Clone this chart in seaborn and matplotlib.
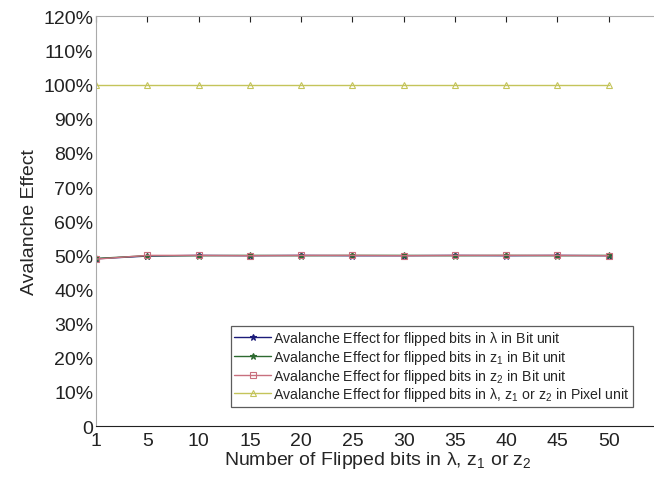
import pandas as pd
import matplotlib.pyplot as plt
import seaborn as sns

# x positions of the flipped-bit counts and their tick labels
x_pos = [0, 5, 10, 15, 20, 25, 30, 35, 40, 45, 50]
x_labels = ['1', '5', '10', '15', '20', '25', '30', '35', '40', '45', '50']

# avalanche effect in percent
lam_bit = [49.0, 49.8, 50.0, 49.9, 50.0, 49.9, 49.9, 50.0, 49.9, 50.0, 49.9]
z1_bit = [49.1, 49.9, 49.9, 50.0, 49.9, 50.0, 50.0, 49.9, 50.0, 49.9, 50.0]
z2_bit = [48.9, 50.0, 50.0, 49.9, 50.0, 50.0, 49.9, 50.0, 50.0, 50.0, 49.9]
pixel = [99.8, 99.8, 99.8, 99.8, 99.8, 99.8, 99.8, 99.8, 99.8, 99.8, 99.8]

labels = [
    r'Avalanche Effect for flipped bits in $\lambda$ in Bit unit',
    r'Avalanche Effect for flipped bits in z$_1$ in Bit unit',
    r'Avalanche Effect for flipped bits in z$_2$ in Bit unit',
    r'Avalanche Effect for flipped bits in $\lambda$, z$_1$ or z$_2$ in Pixel unit',
]

sns.set_style('white')
plt.rcParams['font.family'] = ['Liberation Sans', 'DejaVu Sans']
plt.rcParams['mathtext.fontset'] = 'custom'
plt.rcParams['mathtext.rm'] = 'Liberation Sans'
plt.rcParams['mathtext.it'] = 'Liberation Sans'

fig = plt.figure(figsize=(6.54, 4.81), dpi=100)
ax = fig.add_axes([0.147, 0.112, 0.862, 0.852])

styles = [
    (lam_bit, '#1c1c7a', '*', 'full'),
    (z1_bit, '#2d6a30', '*', 'full'),
    (z2_bit, '#c8707e', 's', 'none'),
    (pixel, '#c4c45a', '^', 'none'),
]
for (vals, col, mk, fill), lab in zip(styles, labels):
    df = pd.DataFrame({'x': x_pos, 'y': vals})
    sns.lineplot(data=df, x='x', y='y', ax=ax, color=col, marker=mk,
                 fillstyle=fill, markersize=5, markeredgecolor=col,
                 markeredgewidth=0.8, linewidth=1.0, label=lab)

ax.set_xlim(0, 55)
ax.set_ylim(0, 120)
ax.set_xticks(x_pos)
ax.set_xticklabels(x_labels)
yt = list(range(0, 121, 10))
ax.set_yticks(yt)
ax.set_yticklabels(['0'] + [f'{v}%' for v in yt[1:]])
ax.tick_params(direction='in', length=4, width=0.8, labelsize=14,
               top=True, right=True, colors='#222222', pad=2)
ax.tick_params(axis='x', pad=4)
for s in ['left', 'top', 'right']:
    ax.spines[s].set_color('#aaaaaa')
ax.spines['bottom'].set_color('#222222')
ax.set_xlabel(r'Number of Flipped bits in $\lambda$, z$_1$ or z$_2$', fontsize=14, labelpad=0)
ax.set_ylabel('Avalanche Effect', fontsize=14, labelpad=4)

leg = ax.legend(loc='lower right', bbox_to_anchor=(0.953, 0.047), fontsize=10.2,
                frameon=True, fancybox=False, handlelength=2.6,
                borderpad=0.25, labelspacing=0.05, handletextpad=0.15,
                borderaxespad=0)
leg.get_frame().set_edgecolor('#333333')
leg.get_frame().set_linewidth(0.9)

plt.savefig('out.png', dpi=100)
plt.close()
